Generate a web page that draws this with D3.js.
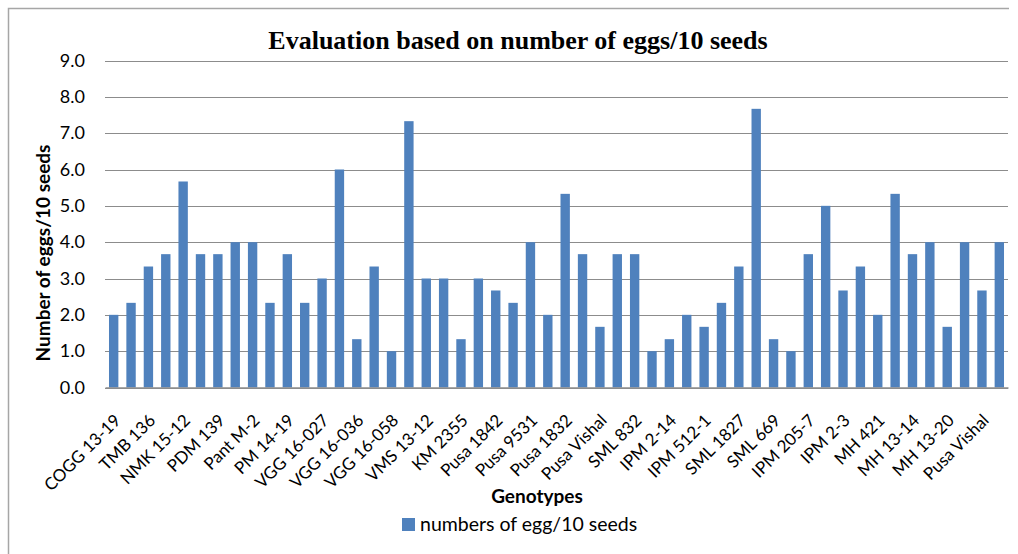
<!DOCTYPE html>
<html lang="en">
<head>
<meta charset="UTF-8"/>
<title>Evaluation based on number of eggs/10 seeds</title>
<script src="https://d3js.org/d3.v7.min.js"></script>
<style>
    body { margin: 0; background: #fff; }
</style>
</head>
<body>
<script>
    // genotype labels (only every other bar is labelled in the chart)
    var labels = ["COGG 13-19", "", "TMB 136", "", "NMK 15-12", "", "PDM 139", "", "Pant M-2", "",
        "PM 14-19", "", "VGG 16-027", "", "VGG 16-036", "", "VGG 16-058", "", "VMS 13-12", "",
        "KM 2355", "", "Pusa 1842", "", "Pusa 9531", "", "Pusa 1832", "", "Pusa Vishal", "",
        "SML 832", "", "IPM 2-14", "", "IPM 512-1", "", "SML 1827", "", "SML 669", "",
        "IPM 205-7", "", "IPM 2-3", "", "MH 421", "", "MH 13-14", "", "MH 13-20", "",
        "Pusa Vishal", ""];

    // number of eggs per 10 seeds
    var eggs = [2.0, 2.33, 3.33, 3.67, 5.67, 3.67, 3.67, 4.0, 4.0, 2.33,
        3.67, 2.33, 3.0, 6.0, 1.33, 3.33, 1.0, 7.33, 3.0, 3.0,
        1.33, 3.0, 2.67, 2.33, 4.0, 2.0, 5.33, 3.67, 1.67, 3.67,
        3.67, 1.0, 1.33, 2.0, 1.67, 2.33, 3.33, 7.67, 1.33, 1.0,
        3.67, 5.0, 2.67, 3.33, 2.0, 5.33, 3.67, 4.0, 1.67, 4.0,
        2.67, 4.0];

    var yTicks = [0, 1, 2, 3, 4, 5, 6, 7, 8, 9];

    var w = 1018;
    var h = 554;
    var plotLeft = 105, plotRight = 1008, plotTop = 60.5, plotBottom = 387.5;
    var barColor = "#4f81bd";
    var font = "Lato, 'Open Sans', sans-serif";

    var svg = d3.select("body")
        .append("svg")
        .attr("width", w)
        .attr("height", h);

    // chart frame (top and left edges visible)
    svg.append("path")
        .attr("d", "M8.5,554 V8.5 H1009")
        .attr("fill", "none")
        .attr("stroke", "#a6a6a6")
        .attr("stroke-width", 1.5);

    var xScale = d3.scaleBand()
        .domain(d3.range(eggs.length))
        .range([plotLeft, plotRight])
        .paddingInner(0.46)
        .paddingOuter(0.23);

    var yScale = d3.scaleLinear()
        .domain([0, 9])
        .range([plotBottom, plotTop]);

    // gridlines
    svg.append("g")
        .selectAll("line")
        .data(yTicks)
        .enter()
        .append("line")
        .attr("x1", plotLeft)
        .attr("x2", plotRight)
        .attr("y1", function (d) { return Math.round(yScale(d)) + 0.5; })
        .attr("y2", function (d) { return Math.round(yScale(d)) + 0.5; })
        .attr("stroke", "#8c8c8c")
        .attr("stroke-width", 1.2);

    // y axis labels
    var yAxis = d3.axisLeft(yScale)
        .tickValues(yTicks)
        .tickFormat(d3.format(".1f"))
        .tickSize(0)
        .tickPadding(20);

    svg.append("g")
        .attr("transform", "translate(" + plotLeft + ",0)")
        .call(yAxis)
        .call(function (g) { g.select(".domain").remove(); })
        .selectAll("text")
        .attr("font-family", font)
        .attr("font-size", "18px")
        .attr("fill", "#000");

    // bars
    svg.append("g")
        .selectAll("rect")
        .data(eggs)
        .enter()
        .append("rect")
        .attr("x", function (d, i) { return xScale(i); })
        .attr("y", function (d) { return yScale(d); })
        .attr("width", xScale.bandwidth())
        .attr("height", function (d) { return yScale(0) - yScale(d); })
        .attr("fill", barColor);

    // x axis labels, rotated
    var xAxis = d3.axisBottom(xScale)
        .tickFormat(function (i) { return labels[i]; })
        .tickSize(0)
        .tickPadding(0);

    var gx = svg.append("g")
        .attr("transform", "translate(0," + plotBottom + ")")
        .call(xAxis);
    gx.select(".domain")
        .attr("stroke", "#8c8c8c")
        .attr("stroke-width", 1.5);
    gx.selectAll("text")
        .attr("font-family", font)
        .attr("font-size", "17px")
        .attr("fill", "#000")
        .attr("text-anchor", "end")
        .attr("dy", 0)
        .attr("transform", "translate(8,34) rotate(-45)");

    // title
    svg.append("text")
        .attr("x", 518)
        .attr("y", 49)
        .attr("text-anchor", "middle")
        .attr("font-family", "'Liberation Serif', serif")
        .attr("font-weight", "bold")
        .attr("font-size", "26px")
        .text("Evaluation based on number of eggs/10 seeds");

    // axis titles
    svg.append("text")
        .attr("transform", "translate(50,253) rotate(-90)")
        .attr("text-anchor", "middle")
        .attr("font-family", font)
        .attr("font-weight", "bold")
        .attr("font-size", "19px")
        .text("Number of eggs/10 seeds");

    svg.append("text")
        .attr("x", 537)
        .attr("y", 503)
        .attr("text-anchor", "middle")
        .attr("font-family", font)
        .attr("font-weight", "bold")
        .attr("font-size", "19px")
        .text("Genotypes");

    // legend
    svg.append("rect")
        .attr("x", 402)
        .attr("y", 518)
        .attr("width", 13)
        .attr("height", 13)
        .attr("fill", barColor);

    svg.append("text")
        .attr("x", 420)
        .attr("y", 531)
        .attr("font-family", font)
        .attr("font-size", "19.5px")
        .text("numbers of egg/10 seeds");
</script>
</body>
</html>
